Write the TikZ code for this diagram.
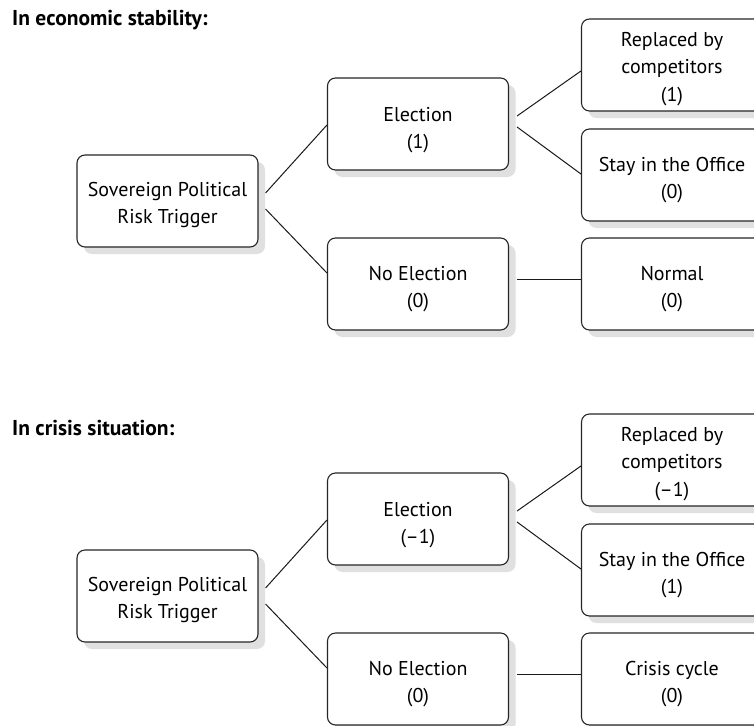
\documentclass[tikz,border=0pt]{standalone}
\usepackage{fontspec}
\setmainfont{PT Sans}
\usetikzlibrary{shadows}
\tikzset{
  box/.style={draw=black!85, line width=1.1pt, rounded corners=8pt, fill=white,
    minimum width=181pt, minimum height=92pt, inner sep=0pt,
    drop shadow={shadow xshift=7pt, shadow yshift=-7pt, fill=black!12, opacity=1}},
  txt/.style={align=center, inner sep=0pt, font=\fontsize{20}{27.5}\selectfont},
  conn/.style={draw=black!90, line width=1pt},
  ttl/.style={anchor=west, inner sep=0pt, font=\fontsize{21.5}{24}\selectfont\bfseries}
}
\begin{document}
\begin{tikzpicture}[x=1pt,y=-1pt]
\useasboundingbox[fill=white] (0,0) rectangle (754,725);
% ---------- top ----------
\node[ttl] (t1) at (12,20) {In economic stability:};
\node[box] (root1) at (167.5,201) {};
\node[box] (el1) at (418,124) {};
\node[box] (ne1) at (418,284) {};
\node[box] (rep1) at (672,65) {};
\node[box] (st1) at (672,175) {};
\node[box] (nm1) at (672,284) {};
\node[txt] (root1t) at ([yshift=-4pt]root1.center) {Sovereign Political\\Risk Trigger};
\node[txt] (el1t) at ([yshift=-6pt]el1.center) {Election\\(1)};
\node[txt] (ne1t) at ([yshift=-5pt]ne1.center) {No Election\\(0)};
\node[txt] (rep1t) at ([yshift=-4pt]rep1.center) {Replaced by\\competitors\\(1)};
\node[txt] (st1t) at ([yshift=-5pt]st1.center) {Stay in the Office\\(0)};
\node[txt] (nm1t) at ([yshift=-5pt]nm1.center) {Normal\\(0)};
\draw[conn] ([xshift=7pt,yshift=8pt]root1.east) -- ([yshift=-1pt]el1.west);
\draw[conn] ([xshift=7pt,yshift=-8pt]root1.east) -- ([yshift=11pt]ne1.west);
\draw[conn] ([xshift=8pt,yshift=8pt]el1.east) -- ([yshift=-6pt]rep1.west);
\draw[conn] ([xshift=8pt,yshift=-3pt]el1.east) -- ([yshift=1pt]st1.west);
\draw[conn] ([xshift=8pt,yshift=5pt]ne1.east) -- ([yshift=5pt]nm1.west);
% ---------- bottom ----------
\node[ttl] (t2) at (12,428) {In crisis situation:};
\node[box] (root2) at (167.5,596) {};
\node[box] (el2) at (418,519) {};
\node[box] (ne2) at (418,679) {};
\node[box] (rep2) at (672,460) {};
\node[box] (st2) at (672,570) {};
\node[box] (nm2) at (672,679) {};
\node[txt] (root2t) at ([yshift=-4pt]root2.center) {Sovereign Political\\Risk Trigger};
\node[txt] (el2t) at ([yshift=-6pt]el2.center) {Election\\(\textendash1)};
\node[txt] (ne2t) at ([yshift=-5pt]ne2.center) {No Election\\(0)};
\node[txt] (rep2t) at ([yshift=-4pt]rep2.center) {Replaced by\\competitors\\(\textendash1)};
\node[txt] (st2t) at ([yshift=-5pt]st2.center) {Stay in the Office\\(1)};
\node[txt] (nm2t) at ([yshift=-5pt]nm2.center) {Crisis cycle\\(0)};
\draw[conn] ([xshift=7pt,yshift=8pt]root2.east) -- ([yshift=-1pt]el2.west);
\draw[conn] ([xshift=7pt,yshift=-8pt]root2.east) -- ([yshift=11pt]ne2.west);
\draw[conn] ([xshift=8pt,yshift=8pt]el2.east) -- ([yshift=-6pt]rep2.west);
\draw[conn] ([xshift=8pt,yshift=-3pt]el2.east) -- ([yshift=1pt]st2.west);
\draw[conn] ([xshift=8pt,yshift=5pt]ne2.east) -- ([yshift=5pt]nm2.west);
\end{tikzpicture}
\end{document}
